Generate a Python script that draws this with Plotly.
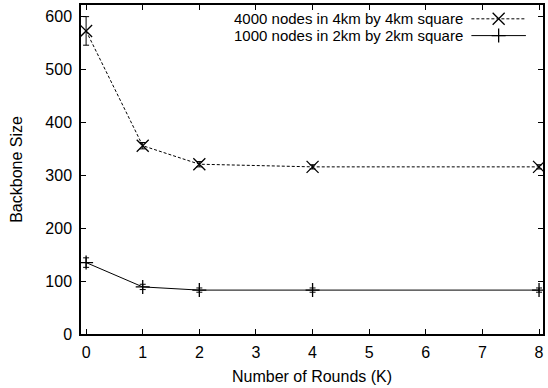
import plotly.graph_objects as go

rounds = [0, 1, 2, 4, 8]
size_4000 = [573, 356, 321, 316, 316]
err_4000 = [27, 6, 5, 4, 4]
size_1000 = [135, 89, 83, 83, 83]
err_1000 = [9, 5, 4, 4, 4]
name_4000 = "4000 nodes in 4km by 4km square"
name_1000 = "1000 nodes in 2km by 2km square"
x_ticks = [0, 1, 2, 3, 4, 5, 6, 7, 8]
y_ticks = [0, 100, 200, 300, 400, 500, 600]
x_title = "Number of Rounds (K)"
y_title = "Backbone Size"

FONT = "Liberation Sans, Arial, sans-serif"

fig = go.Figure()
fig.add_trace(go.Scatter(
    x=rounds, y=size_4000, mode="lines+markers", name=name_4000,
    line=dict(color="black", width=1, dash="3px,2px"),
    marker=dict(symbol="x-thin-open", size=12, color="black", line=dict(color="black", width=1.3)),
    error_y=dict(type="data", array=err_4000, visible=True, thickness=1, width=3, color="black"),
    showlegend=False,
))
fig.add_trace(go.Scatter(
    x=rounds, y=size_1000, mode="lines+markers", name=name_1000,
    line=dict(color="black", width=1),
    marker=dict(symbol="cross-thin-open", size=10, color="black", line=dict(color="black", width=1.3)),
    error_y=dict(type="data", array=err_1000, visible=True, thickness=1, width=3, color="black"),
    showlegend=False,
))

# gnuplot-style legend: text right-aligned, sample on the right
leg_rows = [0.958, 0.907]
leg_x0, leg_x1, leg_xm, leg_txt = 0.845, 0.963, 0.904, 0.832
styles = [
    (name_4000, "3px,2px", "x-thin-open", 12),
    (name_1000, "solid", "cross-thin-open", 10),
]
for (name, dash, sym, sz), yy in zip(styles, leg_rows):
    fig.add_trace(go.Scatter(
        x=[leg_x0, leg_x1], y=[yy, yy], mode="lines", xaxis="x2", yaxis="y2",
        line=dict(color="black", width=1, dash=dash), showlegend=False, hoverinfo="skip"))
    fig.add_trace(go.Scatter(
        x=[leg_xm], y=[yy], mode="markers", xaxis="x2", yaxis="y2",
        marker=dict(symbol=sym, size=sz, color="black", line=dict(color="black", width=1.3)),
        showlegend=False, hoverinfo="skip"))
    fig.add_annotation(x=leg_txt, y=yy, xref="paper", yref="paper", text=name,
                       showarrow=False, xanchor="right", yanchor="middle",
                       font=dict(family=FONT, size=15, color="black"))

fig.add_annotation(x=0.5, y=-0.130, xref="paper", yref="paper", text=x_title,
                   showarrow=False, xanchor="center", yanchor="middle",
                   font=dict(family=FONT, size=16, color="black"))
fig.add_annotation(x=-0.140, y=0.5, xref="paper", yref="paper", text=y_title,
                   showarrow=False, xanchor="center", yanchor="middle", textangle=-90,
                   font=dict(family=FONT, size=16, color="black"))

fig.update_layout(
    width=548, height=388,
    margin=dict(l=81, r=3, t=3, b=54),
    paper_bgcolor="white", plot_bgcolor="white",
    font=dict(family=FONT, size=16, color="black"),
    xaxis=dict(range=[-0.09, 8.07], tickvals=x_ticks, ticks="inside", ticklen=5,
               tickwidth=1, tickcolor="black", showline=True, linecolor="black",
               linewidth=1.5, mirror="allticks", showgrid=False, zeroline=False,
               tickfont=dict(size=16), ticklabelstandoff=3),
    yaxis=dict(range=[0, 622], tickvals=y_ticks, ticks="inside", ticklen=5,
               tickwidth=1, tickcolor="black", showline=True, linecolor="black",
               linewidth=1.5, mirror="allticks", showgrid=False, zeroline=False,
               tickfont=dict(size=16), ticklabelstandoff=4),
    xaxis2=dict(range=[0, 1], overlaying="x", visible=False, fixedrange=True),
    yaxis2=dict(range=[0, 1], overlaying="y", visible=False, fixedrange=True),
)

fig.write_html("out.html")
